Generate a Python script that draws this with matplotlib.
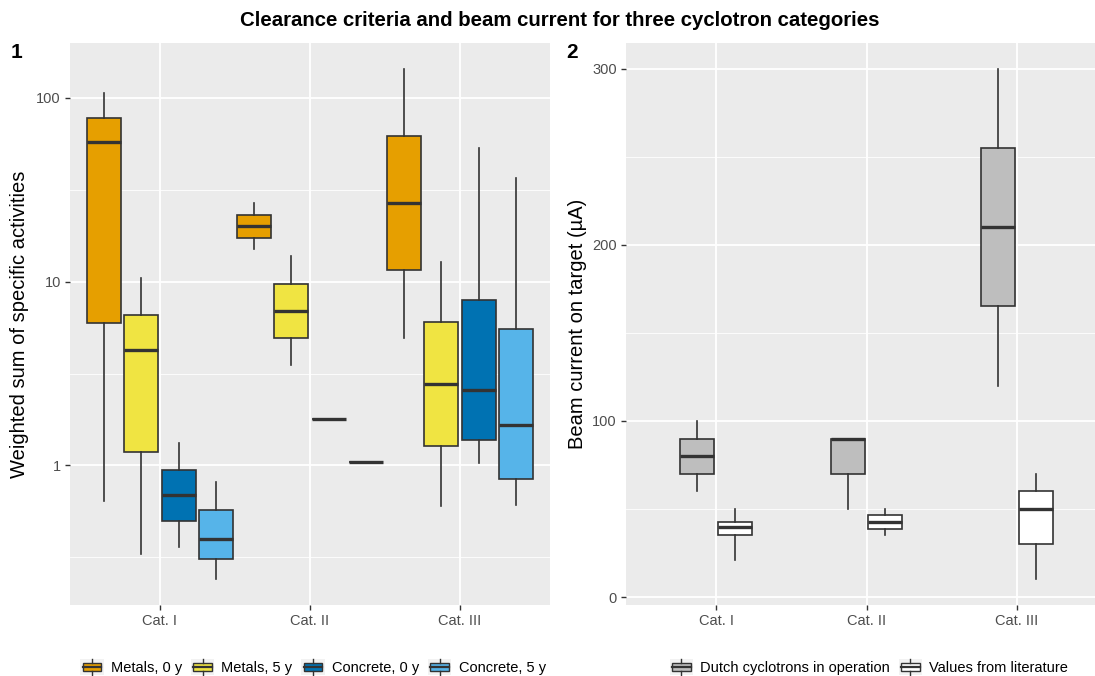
import matplotlib
matplotlib.use("Agg")
import matplotlib.pyplot as plt
import numpy as np
from matplotlib.patches import Rectangle, Patch
from matplotlib.lines import Line2D
from matplotlib.legend_handler import HandlerBase
from matplotlib.ticker import NullFormatter

plt.rcParams['font.family'] = ['Liberation Sans', 'DejaVu Sans']

categories = ["Cat. I", "Cat. II", "Cat. III"]

# five-number summaries per category: [whisker low, Q1, median, Q3, whisker high]
metals_0y = [[0.64, 5.98, 57.6, 77.9, 106], [15.1, 17.3, 20.1, 23.1, 26.9], [4.96, 11.6, 26.9, 62.1, 144]]
metals_5y = [[0.33, 1.18, 4.22, 6.6, 10.4], [3.54, 4.96, 6.96, 9.75, 13.8], [0.60, 1.28, 2.79, 6.0, 12.8]]
concrete_0y = [[0.36, 0.50, 0.687, 0.95, 1.33], [1.8, 1.8, 1.8, 1.8, 1.8], [1.03, 1.38, 2.56, 7.98, 53.5]]
concrete_5y = [[0.24, 0.31, 0.40, 0.57, 0.81], [1.05, 1.05, 1.05, 1.05, 1.05], [0.61, 0.84, 1.67, 5.55, 36.7]]
left_names = ["Metals, 0 y", "Metals, 5 y", "Concrete, 0 y", "Concrete, 5 y"]

dutch = [[60, 70, 80, 90, 100], [50, 70, 90, 90, 90], [120, 165, 210, 255, 300]]
literature = [[21, 35, 40, 42.5, 50], [35, 38.5, 42.5, 46.5, 50], [10, 30, 50, 60, 70]]
right_names = ["Dutch cyclotrons in operation", "Values from literature"]

left_colors = ["#E69F00", "#F0E442", "#0072B2", "#56B4E9"]
right_colors = ["#BEBEBE", "#FFFFFF"]
EDGE = "#333333"
PANEL = "#EBEBEB"
TICKC = "#4D4D4D"


class BoxKey(HandlerBase):
    def create_artists(self, legend, orig_handle, xdescent, ydescent,
                       width, height, fontsize, trans):
        x0, y0 = -xdescent, -ydescent
        bg = Rectangle((x0, y0), width, height, facecolor="#F2F2F2",
                       edgecolor="none", transform=trans)
        box = Rectangle((x0 + 0.1 * width, y0 + 0.25 * height), 0.8 * width, 0.5 * height,
                        facecolor=orig_handle.get_facecolor(), edgecolor=EDGE,
                        linewidth=1.0, transform=trans)
        cx = x0 + width / 2
        med = Line2D([x0 + 0.1 * width, x0 + 0.9 * width], [y0 + 0.5 * height] * 2,
                     color=EDGE, linewidth=1.6, transform=trans)
        w1 = Line2D([cx, cx], [y0, y0 + 0.25 * height], color=EDGE, linewidth=1.0, transform=trans)
        w2 = Line2D([cx, cx], [y0 + 0.75 * height, y0 + height], color=EDGE, linewidth=1.0, transform=trans)
        return [bg, box, med, w1, w2]


def draw_boxes(ax, series, colors, offsets):
    pos = np.arange(1, len(categories) + 1)
    for s, col, off in zip(series, colors, offsets):
        stats = [dict(whislo=v[0], q1=v[1], med=v[2], q3=v[3], whishi=v[4]) for v in s]
        ax.bxp(stats, positions=pos + off, widths=0.225, patch_artist=True,
               showfliers=False, showcaps=False, manage_ticks=False,
               boxprops=dict(facecolor=col, edgecolor=EDGE, linewidth=1.2),
               medianprops=dict(color=EDGE, linewidth=2.4, solid_capstyle="butt"),
               whiskerprops=dict(color=EDGE, linewidth=1.2))


def style(ax):
    ax.set_facecolor(PANEL)
    for sp in ax.spines.values():
        sp.set_visible(False)
    ax.set_axisbelow(True)
    ax.grid(True, which="major", color="white", linewidth=1.3)
    ax.grid(True, which="minor", axis="y", color="white", linewidth=0.6)
    ax.tick_params(which="major", colors=EDGE, labelcolor=TICKC, labelsize=10.5,
                   length=3.5, width=1.0, pad=3)
    ax.tick_params(which="minor", length=0)
    ax.set_xlim(0.4, 3.6)
    ax.set_xticks(np.arange(1, len(categories) + 1), categories)


W, H = 1095, 676
fig = plt.figure(figsize=(W / 100, H / 100), dpi=100)

# left panel
ax1 = fig.add_axes([70 / W, 1 - 605 / H, 480 / W, 562 / H])
style(ax1)
draw_boxes(ax1, [metals_0y, metals_5y, concrete_0y, concrete_5y], left_colors,
           [-0.375, -0.125, 0.125, 0.375])
ax1.set_yscale("log")
allv = np.array(metals_0y + metals_5y + concrete_0y + concrete_5y)
lo, hi = np.log10(allv.min()), np.log10(allv.max())
pad = 0.05 * (hi - lo)
ax1.set_ylim(10 ** (lo - pad), 10 ** (hi + pad))
ax1.set_yticks([1, 10, 100], ["1", "10", "100"])
ax1.set_yticks([10 ** -0.5, 10 ** 0.5, 10 ** 1.5], minor=True)
ax1.yaxis.set_minor_formatter(NullFormatter())
ax1.set_ylabel("Weighted sum of specific activities", fontsize=14.5, labelpad=5)

# right panel
ax2 = fig.add_axes([626 / W, 1 - 605 / H, 481 / W, 562 / H])
style(ax2)
draw_boxes(ax2, [dutch, literature], right_colors, [-0.125, 0.125])
allr = np.array(dutch + literature)
rlo, rhi = allr.min(), allr.max()
rpad = 0.05 * (rhi - rlo)
ax2.set_ylim(rlo - rpad, rhi + rpad)
ax2.set_yticks([0, 100, 200, 300])
ax2.set_yticks([50, 150, 250], minor=True)
ax2.set_ylabel("Beam current on target (\u00b5A)", fontsize=14.5, labelpad=4)

fig.text(560 / W, 1 - 20 / H, "Clearance criteria and beam current for three cyclotron categories",
         ha="center", va="center", fontsize=14.7, fontweight="bold")
fig.text(17 / W, 1 - 52 / H, "1", ha="center", va="center", fontsize=15, fontweight="bold")
fig.text(572 / W, 1 - 52 / H, "2", ha="center", va="center", fontsize=15, fontweight="bold")

lh = [Patch(facecolor=c) for c in left_colors]
fig.legend(lh, left_names, handler_map={Patch: BoxKey()}, loc="center",
           bbox_to_anchor=(313 / W, 1 - 667 / H), ncol=4, frameon=False,
           fontsize=10.5, handlelength=1.6, handleheight=1.4, handletextpad=0.5,
           columnspacing=0.6, borderpad=0)
rh = [Patch(facecolor=c) for c in right_colors]
fig.legend(rh, right_names, handler_map={Patch: BoxKey()}, loc="center",
           bbox_to_anchor=(869 / W, 1 - 667 / H), ncol=2, frameon=False,
           fontsize=10.5, handlelength=1.6, handleheight=1.4, handletextpad=0.5,
           columnspacing=0.6, borderpad=0)

fig.savefig("out.png", dpi=100)
